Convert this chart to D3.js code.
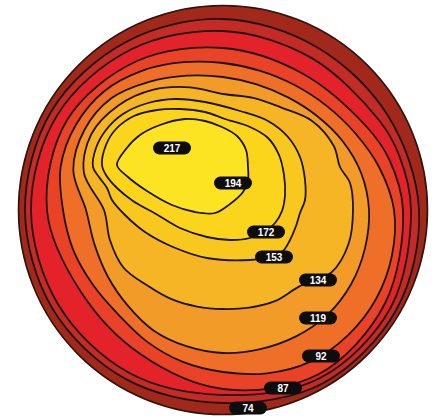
<!DOCTYPE html>
<html>
<head>
<meta charset="utf-8">
<script src="https://cdn.jsdelivr.net/npm/d3@7"></script>
<style>
  html, body { margin: 0; background: #fff; }
  svg { display: block; }
</style>
</head>
<body>
<div id="chart"></div>
<script>
// Survey grid in metres: x = east of the west edge, y = south of the north edge.
// The plot is a circle of radius 205 m centred at (205, 205).
const plotRadius = 205;

// Contour levels, outer to inner (the second line carries no label)
const levels = [74, null, 87, 92, 119, 134, 153, 172, 194];
const peakValue = 217;

const line74 = [[401,205],[378.2,305],[305,378.2],[205,398],[107.5,373.9],[34.4,303.5],[7,205],[33.5,106],[108,37],[205,14],[299,42.2],[369.5,110]];
const lineUnlabelled = [[393,205],[373,302],[302,373],[205,390],[111,367.8],[40.5,300],[13,205],[39.6,109.5],[112.5,44.8],[205,26],[293,52.6],[360.9,115],[381,150]];
const line87 = [[385,205],[366.9,298.5],[300,369.5],[205,384],[122,348.8],[63,287],[29,205],[49.1,115],[119,56],[205,43],[284,68.2],[348.8,122],[371,154]];
const line92 = [[376,205],[374,250.3],[358.3,293.5],[330.1,330.1],[292.5,356.6],[248.8,368.3],[205,367],[164.3,356.7],[129,336.6],[100.4,309.6],[75.1,280],[55.3,245.1],[45,205],[42.7,161.5],[57.8,120],[86.2,86.2],[124.5,65.6],[165.4,57.2],[205,58],[242.3,65.9],[277,80.3],[308.9,101.1],[337.5,128.5],[361.5,163]];
const line119 = [[351,205],[347,243.1],[333.2,279],[309.6,309.6],[278,331.4],[242.3,344.1],[205,348],[168.5,341.2],[135.5,325.4],[109.6,300.4],[89.8,271.5],[76.5,239.4],[68,205],[55.3,164.9],[66.4,125],[93.3,93.3],[131,76.8],[169,70.7],[205,72],[238.7,79.4],[270,92.4],[299,111],[324.5,136],[343.1,168]];
const line134 = [[335,205],[330.6,238.7],[313.3,267.5],[281.4,281.4],[257.5,295.9],[231.2,302.6],[205,304],[179.1,301.6],[153.5,294.2],[129.4,280.6],[105.4,262.5],[92,235.3],[86,205],[65.9,167.7],[73.4,129],[100.4,100.4],[135.5,84.6],[172.1,82.3],[205,89],[235,92.9],[264,102.8],[294.1,115.9],[315.8,141],[322,162],[332,178]];
const line153 = [[75,162],[78,143],[88,125],[105,109],[130,98],[157,94],[187,97],[222,106],[250,116],[270,132],[282,152],[287,175],[287,195],[282,208],[278,221],[272,235],[265,246],[256,251],[232,255],[189,253],[155,242],[127,227],[107,210],[94,195],[89,183],[81,172]];
const line172 = [[84,160],[88,140],[98,124],[116,111],[139,105],[162,104],[187,107],[207,114],[232,122],[250,133],[261,150],[266,170],[267,190],[264,206],[257,218],[248,226],[232,233],[212,235],[189,232],[162,223],[138,209],[115,196],[99,183],[88,170]];
const line194 = [[99,160],[108,144],[122,130],[142,120],[167,114],[187,116],[204,122],[219,131],[228,145],[230,162],[230,175],[225,187],[212,199],[197,208],[177,207],[154,200],[129,186],[110,172]];

const isolines = [line74, lineUnlabelled, line87, line92, line119, line134, line153, line172, line194];

// Label boxes (value, position in metres)
const labelText = [peakValue, 194, 172, 153, 134, 119, 92, 87, 74];
const labelX = [154, 215, 248, 256, 300, 300, 303, 265, 230];
const labelY = [143, 178, 227, 252, 275, 313, 351, 383, 403];

// Band fills, outside the first line first
const bandColors = ['#a3281c', '#c42a26', '#e3222a', '#ea4226', '#ef6f29', '#f39b29', '#f6b525', '#f8c81f', '#fad51c', '#fde423'];

const width = 438, height = 419;

const x = d3.scaleLinear().domain([0, 410]).range([18, 428]);
const y = d3.scaleLinear().domain([0, 410]).range([5, 415]);

const svg = d3.select('#chart')
  .append('svg')
    .attr('width', width)
    .attr('height', height);

const cx = x(plotRadius), cy = y(plotRadius), r = x(plotRadius * 2) - x(plotRadius);

svg.append('defs')
  .append('clipPath')
    .attr('id', 'plot')
  .append('circle')
    .attr('cx', cx)
    .attr('cy', cy)
    .attr('r', r);

const g = svg.append('g').attr('clip-path', 'url(#plot)');

// Background band (below the lowest level)
g.append('circle')
  .attr('cx', cx)
  .attr('cy', cy)
  .attr('r', r)
  .attr('fill', bandColors[0]);

const line = d3.line()
  .x(d => x(d[0]))
  .y(d => y(d[1]))
  .curve(d3.curveCatmullRomClosed.alpha(0.5));

g.selectAll('path.iso')
  .data(isolines)
  .join('path')
    .attr('class', 'iso')
    .attr('d', line)
    .attr('fill', (d, i) => bandColors[i + 1])
    .attr('stroke', '#1c1410')
    .attr('stroke-width', 1.8)
    .attr('stroke-linejoin', 'round');

// Plot outline
svg.append('circle')
  .attr('cx', cx)
  .attr('cy', cy)
  .attr('r', r - 0.5)
  .attr('fill', 'none')
  .attr('stroke', '#2a1610')
  .attr('stroke-width', 1.6);

// Value tags
const tag = svg.append('g')
  .selectAll('g')
  .data(labelText)
  .join('g')
    .attr('transform', (d, i) => `translate(${x(labelX[i])},${y(labelY[i])})`);

tag.append('rect')
  .attr('x', -19)
  .attr('y', -6.5)
  .attr('width', 38)
  .attr('height', 13)
  .attr('rx', 6.5)
  .attr('fill', '#0d0d0d');

tag.append('text')
  .attr('text-anchor', 'middle')
  .attr('dy', '0.36em')
  .attr('fill', '#fff')
  .style('font-family', '"Liberation Sans", Arial, sans-serif')
  .style('font-weight', 'bold')
  .style('font-size', '10px')
  .text(d => d);
</script>
</body>
</html>
